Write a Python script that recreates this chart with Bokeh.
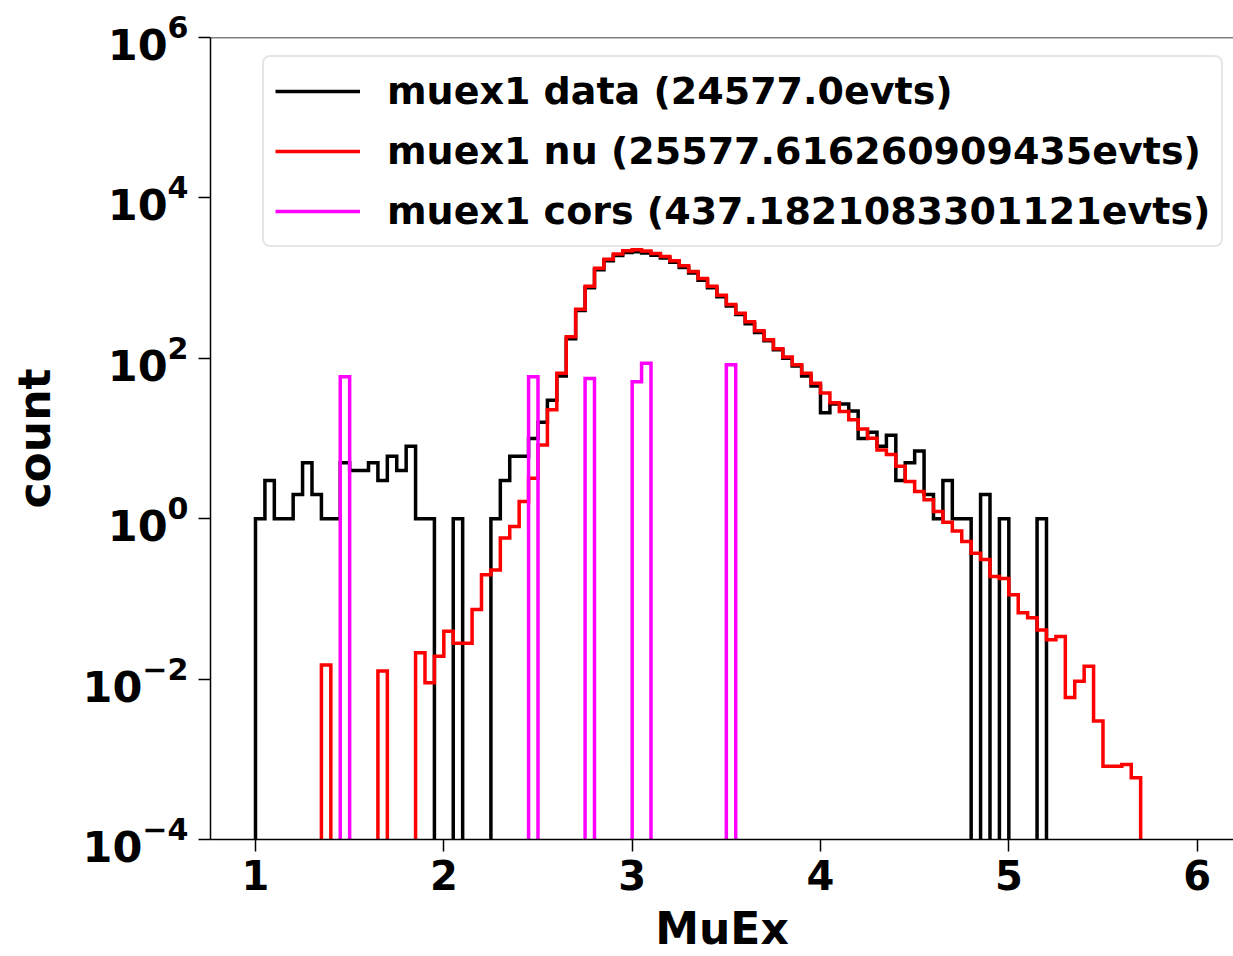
import numpy as np
from bokeh.plotting import figure
from bokeh.models import (Range1d, FixedTicker, LogTickFormatter, Legend, LegendItem, Span)
from bokeh.embed import file_html
from bokeh.resources import INLINE

# ---------------- data (100 bins of width 0.05 from 1.0 to 6.0) ----------------
bin_edges = np.round(np.linspace(1.0, 6.0, 101), 2)

data_counts = [
    1, 3, 1, 1, 2, 5, 2, 1, 1, 5,
    4, 4, 5, 3, 6, 4, 8, 1, 1, 0,
    0, 1, 0, 0, 0, 1, 3, 6, 6, 10,
    16, 30, 60, 175, 395, 760, 1270, 1650, 1920, 2090,
    2130, 2060, 1930, 1780, 1580, 1360, 1160, 940, 760, 585,
    450, 352, 270, 210, 165, 128, 100, 80, 60, 45,
    21, 27, 27, 22, 10, 12, 8, 11, 3, 5,
    7, 2, 1, 3, 1, 1, 0, 2, 0, 1,
    0, 0, 0, 1, 0, 0, 0, 0, 0, 0,
    0, 0, 0, 0, 0, 0, 0, 0, 0, 0,
]

nu_counts = [
    0, 0, 0, 0, 0, 0, 0, 0.015, 0, 0,
    0, 0, 0, 0.0126, 0, 0, 0, 0.0213, 0.009, 0.0193,
    0.0395, 0.028, 0.028, 0.074, 0.20, 0.23, 0.575, 0.80, 1.64, 3.2,
    8.3, 22.8, 65, 186, 410, 790, 1330, 1720, 2000, 2200,
    2260, 2180, 2030, 1860, 1650, 1430, 1210, 990, 790, 610,
    470, 365, 285, 220, 170, 132, 104, 83, 65, 49,
    37, 28, 21.7, 17.1, 13.1, 10.1, 7.2, 6.3, 4.5, 2.9,
    2.19, 1.72, 1.23, 0.90, 0.70, 0.52, 0.37, 0.31, 0.19, 0.18,
    0.113, 0.067, 0.058, 0.041, 0.031, 0.034, 0.0059, 0.0094, 0.0145, 0.0030,
    0.00082, 0.00082, 0.00086, 0.00059, 0, 0, 0, 0, 0, 0,
]

cors_counts = [
    0, 0, 0, 0, 0, 0, 0, 0, 0, 59,
    0, 0, 0, 0, 0, 0, 0, 0, 0, 0,
    0, 0, 0, 0, 0, 0, 0, 0, 0, 59,
    0, 0, 0, 0, 0, 56, 0, 0, 0, 0,
    51, 87, 0, 0, 0, 0, 0, 0, 0, 0,
    83, 0, 0, 0, 0, 0, 0, 0, 0, 0,
    0, 0, 0, 0, 0, 0, 0, 0, 0, 0,
    0, 0, 0, 0, 0, 0, 0, 0, 0, 0,
    0, 0, 0, 0, 0, 0, 0, 0, 0, 0,
    0, 0, 0, 0, 0, 0, 0, 0, 0, 0,
]

series_labels = [
    "muex1 data (24577.0evts)",
    "muex1 nu (25577.616260909435evts)",
    "muex1 cors (437.1821083301121evts)",
]
series_colors = ["#000000", "#ff0000", "#ff00ff"]

x_ticks = [1, 2, 3, 4, 5, 6]
y_ticks = [1e-4, 1e-2, 1e0, 1e2, 1e4, 1e6]
x_label = "MuEx"
y_label = "count"

# ---------------- helpers ----------------
FLOOR = 1e-7  # empty bins drop below the visible range (log axis)


def step_outline(edges, vals):
    xs, ys = [edges[0]], [FLOOR]
    for i, v in enumerate(vals):
        vv = v if v > 0 else FLOOR
        xs += [edges[i], edges[i + 1]]
        ys += [vv, vv]
    xs.append(edges[-1])
    ys.append(FLOOR)
    return xs, ys


FONT = "DejaVu Sans"

p = figure(width=1233, height=956, y_axis_type="log",
           x_range=Range1d(0.7611, 6.193), y_range=Range1d(1e-4, 1e6),
           output_backend="svg", toolbar_location=None,
           min_border_left=210, min_border_right=0,
           min_border_top=37, min_border_bottom=116)

p.background_fill_color = "white"
p.border_fill_color = "white"
p.outline_line_color = None
p.xgrid.visible = False
p.ygrid.visible = False

renderers = []
for vals, col in zip([data_counts, nu_counts, cors_counts], series_colors):
    xs, ys = step_outline(bin_edges, vals)
    r = p.line(xs, ys, line_color=col, line_width=3.5, line_join="miter")
    renderers.append(r)

# top spine
p.add_layout(Span(location=1e6, dimension="width", line_color="black", line_width=1.5))

# axes styling
for ax in (p.xaxis[0], p.yaxis[0]):
    ax.axis_line_width = 1.5
    ax.major_tick_line_width = 1.5
    ax.major_tick_out = 12
    ax.major_tick_in = 0
    ax.minor_tick_out = 0
    ax.minor_tick_in = 0
    ax.major_label_text_font = FONT
    ax.major_label_text_font_style = "bold"
    ax.major_label_text_font_size = "40px"
    ax.major_label_text_color = "black"
    ax.axis_label_text_font = FONT
    ax.axis_label_text_font_style = "bold"
    ax.axis_label_text_font_size = "44px"
    ax.axis_label_text_color = "black"

p.xaxis.ticker = FixedTicker(ticks=x_ticks)
p.xaxis.major_label_standoff = 8
p.xaxis.axis_label = x_label
p.xaxis.axis_label_standoff = 10

p.yaxis.ticker = FixedTicker(ticks=y_ticks, minor_ticks=[])
p.yaxis.formatter = LogTickFormatter()
p.yaxis.major_label_text_font_size = "43px"
p.yaxis.major_label_standoff = 10
p.yaxis.axis_label = y_label
p.yaxis.axis_label_standoff = 20

legend = Legend(items=[LegendItem(label=lab, renderers=[r])
                       for lab, r in zip(series_labels, renderers)],
                location=(52, 592))
legend.label_text_font = FONT
legend.label_text_font_style = "bold"
legend.label_text_font_size = "38px"
legend.label_text_color = "black"
legend.glyph_width = 85
legend.glyph_height = 46
legend.label_standoff = 27
legend.label_height = 46
legend.spacing = 14
legend.padding = 11
legend.margin = 0
legend.border_line_color = "#cccccc"
legend.border_line_width = 2
legend.background_fill_color = "white"
legend.background_fill_alpha = 0.8
try:
    legend.border_radius = 8
except Exception:
    pass
p.add_layout(legend, "center")

open("out.html", "w").write(file_html(p, INLINE))
